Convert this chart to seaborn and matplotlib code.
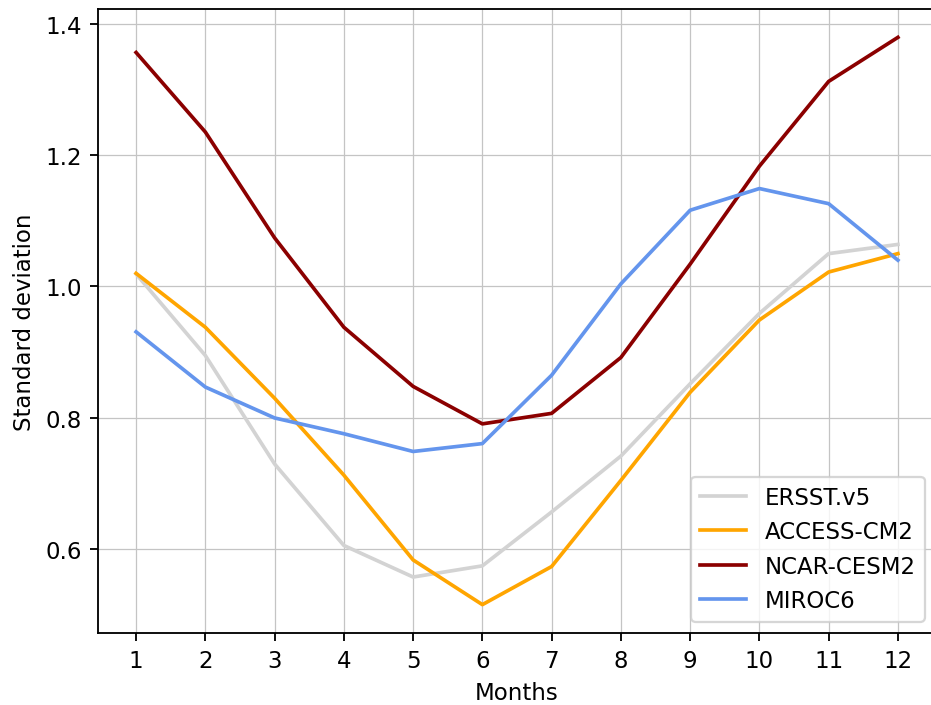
import matplotlib
matplotlib.use("Agg")
import matplotlib.pyplot as plt
import seaborn as sns
import pandas as pd

months = list(range(1, 13))
ersst = [1.019, 0.895, 0.730, 0.606, 0.558, 0.575, 0.657, 0.742, 0.852, 0.959, 1.050, 1.064]
access = [1.020, 0.938, 0.830, 0.713, 0.584, 0.516, 0.574, 0.705, 0.839, 0.949, 1.022, 1.050]
ncar = [1.356, 1.235, 1.074, 0.938, 0.848, 0.791, 0.807, 0.892, 1.034, 1.183, 1.312, 1.379]
miroc = [0.931, 0.847, 0.800, 0.776, 0.749, 0.761, 0.865, 1.004, 1.116, 1.149, 1.126, 1.040]

names = ["ERSST.v5", "ACCESS-CM2", "NCAR-CESM2", "MIROC6"]
colors = ["lightgray", "orange", "darkred", "cornflowerblue"]
series = [ersst, access, ncar, miroc]

rows = []
for n, vals in zip(names, series):
    for m, v in zip(months, vals):
        rows.append({"Months": m, "Standard deviation": v, "Model": n})
df = pd.DataFrame(rows)

DPI = 165
fig = plt.figure(figsize=(931 / DPI, 706 / DPI), dpi=DPI)
ax = fig.add_axes([98 / 931, 72 / 706, (936 - 98) / 931, (634 - 10) / 706])

sns.lineplot(data=df, x="Months", y="Standard deviation", hue="Model",
             hue_order=names, palette=dict(zip(names, colors)),
             linewidth=1.6, ax=ax, zorder=3)

ax.grid(True, color="#c4c4c4", linewidth=0.55)
ax.set_axisbelow(True)
ax.set_xticks(months)
ax.set_xlabel("Months")
ax.set_ylabel("Standard deviation")
ax.legend(loc="lower right", title=None)

fig.savefig("out.png", dpi=DPI)
